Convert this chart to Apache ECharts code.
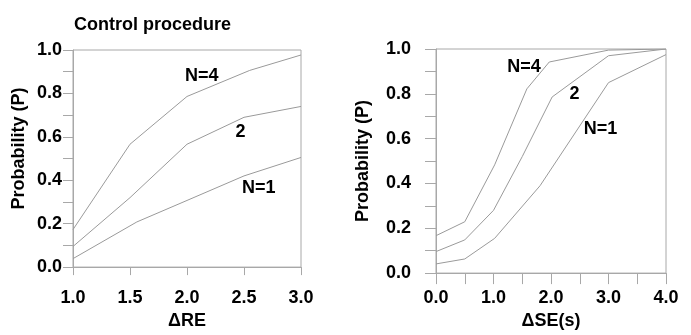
<!DOCTYPE html>
<html>
<head>
<meta charset="utf-8">
<script src="https://cdn.jsdelivr.net/npm/echarts@6/dist/echarts.min.js"></script>
<style>
  html, body { margin: 0; padding: 0; background: #fff; }
  #chart { width: 691px; height: 335px; }
</style>
</head>
<body>
<div id="chart"></div>
<script>
// left panel: delta RE
const reN4X = [1.0, 1.5, 2.0, 2.55, 3.0];
const reN4Y = [0.173, 0.566, 0.786, 0.906, 0.977];
const reN2X = [1.0, 1.5, 2.0, 2.5, 3.0];
const reN2Y = [0.095, 0.32, 0.566, 0.69, 0.74];
const reN1X = [1.0, 1.56, 2.0, 2.5, 3.0];
const reN1Y = [0.039, 0.208, 0.307, 0.42, 0.505];
const reTags = ["N=4", "2", "N=1"];
const reTagX = [2.13, 2.47, 2.63];
const reTagY = [0.882, 0.62, 0.363];

// right panel: delta SE(s)
const seN4X = [0, 0.5, 1.02, 1.58, 1.97, 3.0, 4.0];
const seN4Y = [0.167, 0.229, 0.483, 0.822, 0.942, 0.995, 1.0];
const seN2X = [0, 0.5, 1.0, 1.5, 2.02, 3.0, 4.0];
const seN2Y = [0.096, 0.148, 0.28, 0.52, 0.786, 0.97, 1.0];
const seN1X = [0, 0.5, 1.02, 1.81, 3.0, 4.0];
const seN1Y = [0.041, 0.063, 0.155, 0.39, 0.85, 0.975];
const seTags = ["N=4", "2", "N=1"];
const seTagX = [1.53, 2.41, 2.86];
const seTagY = [0.92, 0.80, 0.645];

const font = "'Liberation Sans', Arial, sans-serif";
const gray = "#a8a8a8";
const ink = "#000";
const zip = (xs, ys) => xs.map((x, i) => [x, ys[i]]);

const chart = echarts.init(document.getElementById("chart"));

function line(xs, ys, idx) {
  return {
    type: "line",
    xAxisIndex: idx,
    yAxisIndex: idx,
    data: zip(xs, ys),
    symbol: "none",
    silent: true,
    lineStyle: { color: "#9a9a9a", width: 1 }
  };
}

function tags(names, xs, ys, idx) {
  return {
    type: "scatter",
    xAxisIndex: idx,
    yAxisIndex: idx,
    symbolSize: 0,
    silent: true,
    itemStyle: { color: "#fff", opacity: 1 },
    data: names.map((n, i) => ({ name: n, value: [xs[i], ys[i]] })),
    label: {
      show: true,
      position: "inside",
      formatter: (p) => p.name,
      color: ink,
      textBorderWidth: 0,
      fontFamily: font,
      fontWeight: "bold",
      fontSize: 18
    }
  };
}

function yAxis(idx, labelMargin, nameGap, namePad, tickLen) {
  return {
    gridIndex: idx,
    type: "value",
    min: 0,
    max: 1,
    interval: 0.1,
    name: "Probability (P)",
    nameLocation: "middle",
    nameGap: nameGap,
    nameTextStyle: { color: ink, fontFamily: font, fontWeight: "bold", fontSize: 18, padding: namePad },
    axisLine: { show: true, lineStyle: { color: gray } },
    axisTick: { show: true, length: tickLen, lineStyle: { color: gray } },
    splitLine: { show: false },
    axisLabel: {
      margin: labelMargin,
      color: ink,
      fontFamily: font,
      fontWeight: "bold",
      fontSize: 18,
      formatter: (v) => (Math.round(v * 10) % 2 === 0 ? v.toFixed(1) : "")
    }
  };
}

chart.setOption({
  animation: false,
  title: {
    text: "Control procedure",
    left: 69,
    top: 11,
    textStyle: { color: ink, fontFamily: font, fontWeight: "bold", fontSize: 18 }
  },
  grid: [
    { left: 73, right: 390, top: 50, bottom: 64, show: true, borderColor: gray, borderWidth: 1 },
    { left: 436, right: 25, top: 49, bottom: 60, show: true, borderColor: gray, borderWidth: 1 }
  ],
  xAxis: [
    {
      gridIndex: 0,
      type: "value",
      min: 1,
      max: 3,
      interval: 0.5,
      name: "\u0394RE",
      nameLocation: "middle",
      nameGap: 40,
      nameTextStyle: { color: ink, fontFamily: font, fontWeight: "bold", fontSize: 18 },
      axisLine: { show: true, onZero: false, lineStyle: { color: gray } },
      axisTick: { show: true, length: 8, lineStyle: { color: gray } },
      splitLine: { show: false },
      axisLabel: { margin: 22, color: ink, fontFamily: font, fontWeight: "bold", fontSize: 18, formatter: (v) => v.toFixed(1) }
    },
    {
      gridIndex: 1,
      type: "value",
      min: 0,
      max: 4,
      interval: 0.5,
      name: "\u0394SE(s)",
      nameLocation: "middle",
      nameGap: 34,
      nameTextStyle: { color: ink, fontFamily: font, fontWeight: "bold", fontSize: 18 },
      axisLine: { show: true, onZero: false, lineStyle: { color: gray } },
      axisTick: { show: true, length: 11, lineStyle: { color: gray } },
      splitLine: { show: false },
      axisLabel: {
        margin: 16,
        color: ink,
        fontFamily: font,
        fontWeight: "bold",
        fontSize: 18,
        formatter: (v) => (Math.round(v * 2) % 2 === 0 ? v.toFixed(1) : "")
      }
    }
  ],
  yAxis: [
    yAxis(0, 11, 45, [0, 0, 0, 20], 10),
    yAxis(1, 25, 64, 0, 11)
  ],
  series: [
    line(reN4X, reN4Y, 0),
    line(reN2X, reN2Y, 0),
    line(reN1X, reN1Y, 0),
    tags(reTags, reTagX, reTagY, 0),
    line(seN4X, seN4Y, 1),
    line(seN2X, seN2Y, 1),
    line(seN1X, seN1Y, 1),
    tags(seTags, seTagX, seTagY, 1)
  ]
});
</script>
</body>
</html>
